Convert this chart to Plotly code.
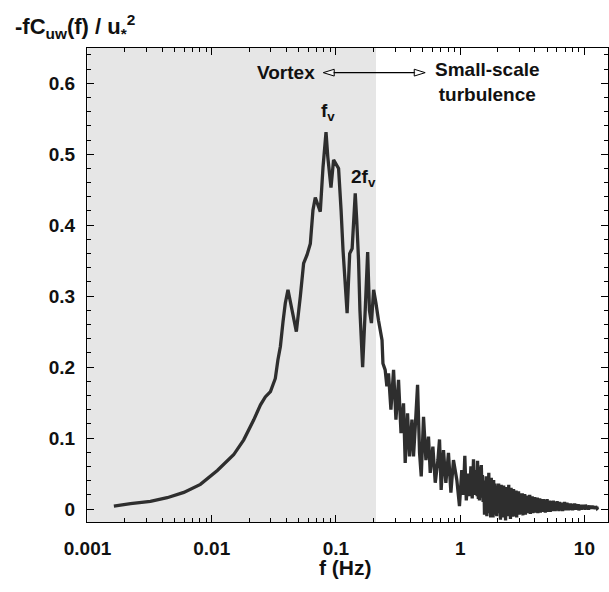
import plotly.graph_objects as go

# ---- data ----
# low-frequency (smooth + vortex peaks) part
f_low = [0.00163, 0.00222, 0.00321, 0.00438, 0.00596, 0.00811, 0.0111, 0.0150, 0.0181, 0.0218,
         0.0247, 0.0270, 0.0297, 0.0325, 0.0341, 0.0357, 0.0375, 0.0391, 0.0411, 0.0443,
         0.0480, 0.0517, 0.0549, 0.0585, 0.0622, 0.0653, 0.0682, 0.0748, 0.0787, 0.0832,
         0.0860, 0.0912, 0.0957, 0.105, 0.110, 0.114, 0.123, 0.129, 0.135, 0.143,
         0.147, 0.152, 0.156, 0.164, 0.172, 0.180, 0.186, 0.193, 0.201, 0.210,
         0.220, 0.235, 0.239, 0.249, 0.257, 0.265, 0.277, 0.291, 0.304, 0.319,
         0.334, 0.350, 0.361, 0.377, 0.391, 0.409, 0.421, 0.435, 0.454, 0.471,
         0.486, 0.507, 0.530, 0.556, 0.574, 0.603, 0.630, 0.662, 0.682, 0.703,
         0.734, 0.767, 0.805, 0.842, 0.883, 0.940, 0.987, 1.03, 1.06, 1.09,
         1.12, 1.16, 1.19, 1.22, 1.25, 1.28, 1.31]
c_low = [0.0042, 0.0075, 0.0107, 0.0159, 0.0234, 0.0347, 0.0544, 0.0764, 0.0975, 0.1257,
         0.1468, 0.158, 0.1655, 0.184, 0.210, 0.229, 0.264, 0.290, 0.309, 0.2805,
         0.250, 0.300, 0.346, 0.358, 0.374, 0.421, 0.439, 0.419, 0.482, 0.531,
         0.496, 0.453, 0.492, 0.480, 0.421, 0.365, 0.276, 0.360, 0.367, 0.445,
         0.407, 0.351, 0.280, 0.200, 0.280, 0.362, 0.280, 0.262, 0.309, 0.290,
         0.266, 0.238, 0.205, 0.196, 0.173, 0.191, 0.140, 0.196, 0.126, 0.182,
         0.107, 0.149, 0.065, 0.135, 0.074, 0.126, 0.074, 0.116, 0.175, 0.079,
         0.046, 0.130, 0.069, 0.102, 0.051, 0.088, 0.037, 0.069, 0.098, 0.027,
         0.083, 0.037, 0.079, 0.023, 0.069, 0.041, 0.004, 0.055, 0.020, 0.075,
         0.012, 0.050, 0.018, 0.060, 0.015, 0.070, 0.020]

# high-frequency (small-scale turbulence) part
f_high = [1.35, 1.37, 1.38, 1.40, 1.41, 1.43, 1.45, 1.46, 1.48, 1.50,
          1.51, 1.53, 1.55, 1.57, 1.58, 1.60, 1.62, 1.64, 1.66, 1.68,
          1.70, 1.72, 1.74, 1.76, 1.78, 1.80, 1.82, 1.84, 1.86, 1.88,
          1.91, 1.93, 1.95, 1.97, 2.00, 2.02, 2.04, 2.07, 2.09, 2.11,
          2.14, 2.16, 2.19, 2.21, 2.24, 2.27, 2.29, 2.32, 2.34, 2.37,
          2.40, 2.43, 2.46, 2.48, 2.51, 2.54, 2.57, 2.60, 2.63, 2.66,
          2.69, 2.72, 2.75, 2.79, 2.82, 2.85, 2.88, 2.92, 2.95, 2.99,
          3.02, 3.06, 3.09, 3.13, 3.16, 3.20, 3.24, 3.27, 3.31, 3.35,
          3.39, 3.43, 3.47, 3.51, 3.55, 3.59, 3.63, 3.67, 3.72, 3.76,
          3.80, 3.85, 3.89, 3.94, 3.98, 4.03, 4.07, 4.12, 4.17, 4.22,
          4.27, 4.32, 4.37, 4.42, 4.47, 4.52, 4.57, 4.62, 4.68, 4.73,
          4.79, 4.84, 4.90, 4.96, 5.01, 5.07, 5.13, 5.19, 5.25, 5.31,
          5.37, 5.43, 5.50, 5.56, 5.62, 5.69, 5.75, 5.82, 5.89, 5.96,
          6.03, 6.10, 6.17, 6.24, 6.31, 6.38, 6.46, 6.53, 6.61, 6.68,
          6.76, 6.84, 6.92, 7.00, 7.08, 7.16, 7.24, 7.33, 7.41, 7.50,
          7.59, 7.67, 7.76, 7.85, 7.94, 8.04, 8.13, 8.22, 8.32, 8.41,
          8.51, 8.61, 8.71, 8.81, 8.91, 9.02, 9.12, 9.23, 9.33, 9.44,
          9.55, 9.66, 9.77, 9.89, 10.0, 10.1, 10.2, 10.4, 10.5, 10.6,
          10.7, 10.8, 11.0, 11.1, 11.2, 11.4, 11.5, 11.6, 11.7, 11.9,
          12.0, 12.2, 12.3, 12.5, 12.6, 12.7, 12.9]
c_high = [0.055, 0.018, 0.068, 0.014, 0.060, 0.012, 0.050, 0.016, 0.062, 0.020, 0.048, 0.010,
          0.040, -0.008, 0.035, -0.005, 0.046, -0.010, 0.038, 0.000, 0.051, -0.006,
          0.032, -0.012, 0.044, -0.004, 0.030, -0.012, 0.041, 0.002, 0.036, -0.008,
          0.033, -0.010, 0.028, -0.004, 0.036, -0.006, 0.030, -0.015, 0.034, -0.002,
          0.026, -0.012, 0.033, -0.008, 0.029, -0.016, 0.031, -0.004, 0.025, -0.010,
          0.034, -0.005, 0.027, -0.014, 0.030, -0.007, 0.024, -0.011, 0.028,
          -0.010, 0.024, -0.003, 0.026, -0.012, 0.020, -0.004, 0.025, -0.008, 0.022,
          -0.002, 0.018, -0.007, 0.022, -0.009, 0.019, -0.004, 0.021, -0.008, 0.017,
          -0.002, 0.019, -0.006, 0.016, -0.003, 0.020, -0.007, 0.015, -0.004, 0.018,
          -0.006, 0.014, -0.002, 0.017, -0.005, 0.015, -0.003, 0.016, -0.006, 0.013,
          -0.002, 0.015, -0.005, 0.014, -0.003, 0.012, -0.004, 0.014, -0.002, 0.013,
          -0.005, 0.013, -0.002, 0.014, -0.004, 0.011, -0.001, 0.012, -0.004, 0.010,
          -0.002, 0.011, -0.003, 0.012, -0.001, 0.010, -0.003, 0.009, -0.002, 0.011,
          -0.001, 0.009, -0.003, 0.010, -0.002, 0.008, -0.001, 0.009, -0.003, 0.008,
          -0.002, 0.010, -0.001, 0.008, -0.002, 0.009, 0.000, 0.007, -0.002, 0.008,
          -0.001, 0.008, 0.000, 0.007, -0.002, 0.007, -0.001, 0.008, 0.000, 0.007,
          -0.001, 0.006, 0.000, 0.007, -0.002, 0.005, 0.001, 0.006, -0.001, 0.005,
          0.000, 0.006, 0.001, 0.005, -0.001, 0.006, 0.000, 0.005, 0.001, 0.004,
          -0.001, 0.005, 0.000, 0.004, 0.001, 0.005, 0.000, 0.004, 0.001, 0.004,
          0.000, 0.004, 0.001, 0.003, 0.001, 0.002]

x_tickvals = [0.001, 0.01, 0.1, 1, 10]
x_ticktext = ["0.001", "0.01", "0.1", "1", "10"]
y_tickvals = [0, 0.1, 0.2, 0.3, 0.4, 0.5, 0.6]
y_ticktext = ["0", "0.1", "0.2", "0.3", "0.4", "0.5", "0.6"]
x_minor = [m * d for d in [0.001, 0.01, 0.1, 1, 10] for m in range(2, 10) if m * d < 15.5]
y_minor = [0.02, 0.04, 0.06, 0.08, 0.12, 0.14, 0.16, 0.18, 0.22, 0.24, 0.26, 0.28,
           0.32, 0.34, 0.36, 0.38, 0.42, 0.44, 0.46, 0.48, 0.52, 0.54, 0.56, 0.58,
           0.62, 0.64]
vortex_limit = 0.21
X_RANGE = [-3.004, 1.19]
Y_RANGE = [-0.0183, 0.6497]

assert len(f_low) == len(c_low), (len(f_low), len(c_low))
assert len(f_high) == len(c_high), (len(f_high), len(c_high))

f_all = f_low + f_high
c_all = c_low + c_high

FONT = "Liberation Sans, Arial, sans-serif"
BLACK = "black"
CLEAR = "rgba(0,0,0,0)"

fig = go.Figure()
fig.add_trace(go.Scatter(
    x=f_all, y=c_all, mode="lines",
    line=dict(color="#2e2e2e", width=3.3, simplify=False),
    showlegend=False, hoverinfo="skip"))
# empty helper traces so the tick-only overlay axes are laid out
fig.add_trace(go.Scatter(x=[], y=[], xaxis="x2", yaxis="y2", showlegend=False, hoverinfo="skip"))
fig.add_trace(go.Scatter(x=[], y=[], xaxis="x3", yaxis="y3", showlegend=False, hoverinfo="skip"))

# shaded vortex region
fig.add_shape(type="rect", xref="x", yref="paper", x0=0.001, x1=vortex_limit, y0=0, y1=1,
              fillcolor="#e6e6e6", line=dict(width=0), layer="below")

tickfont = dict(family=FONT, size=19, color="#111")

def tick_axis(vals, length, width, overl, anch, log):
    d = dict(range=X_RANGE if log else Y_RANGE, overlaying=overl, anchor=anch,
             tickmode="array", tickvals=vals, ticks="inside", ticklen=length,
             tickwidth=width, tickcolor=BLACK, showticklabels=False, showline=False,
             mirror="ticks", showgrid=False, zeroline=False)
    if log:
        d["type"] = "log"
    return d

fig.update_layout(
    # main axes: frame + labels (transparent outside ticks push labels away from frame)
    xaxis=dict(type="log", range=X_RANGE, tickmode="array", tickvals=x_tickvals,
               ticktext=["<b>%s</b>" % t for t in x_ticktext],
               ticks="outside", ticklen=9, tickcolor=CLEAR,
               showline=True, linecolor=BLACK, linewidth=1.3, mirror=True,
               showgrid=False, zeroline=False, tickfont=tickfont),
    yaxis=dict(range=Y_RANGE, tickmode="array", tickvals=y_tickvals,
               ticktext=["<b>%s</b>" % t for t in y_ticktext],
               ticks="outside", ticklen=7, tickcolor=CLEAR,
               showline=True, linecolor=BLACK, linewidth=1.3, mirror=True,
               showgrid=False, zeroline=False, tickfont=tickfont),
    # tick-only overlay axes: major (longer) and minor (shorter) inward ticks
    xaxis2=tick_axis(x_tickvals, 7, 1.2, "x", "y", True),
    yaxis2=tick_axis(y_tickvals, 7, 1.2, "y", "x", False),
    xaxis3=tick_axis(x_minor, 4, 1, "x", "y", True),
    yaxis3=tick_axis(y_minor, 4, 1, "y", "x", False),
)

fig.add_annotation(xref="paper", yref="paper", x=-0.142, y=1.045, xanchor="left", yanchor="middle",
                   text="<b>-fC<sub>uw</sub>(f) / u<sub>*</sub><sup>2</sup></b>", showarrow=False,
                   font=dict(family=FONT, size=22, color="#111"))
fig.add_annotation(xref="paper", yref="paper", x=0.4957, y=-0.095, xanchor="center", yanchor="middle",
                   text="<b>f (Hz)</b>", showarrow=False,
                   font=dict(family=FONT, size=21, color="#111"))
ann_font = dict(family=FONT, size=19, color="#111")
fig.add_annotation(xref="paper", yref="paper", x=0.381, y=0.948, xanchor="center", yanchor="middle",
                   text="<b>Vortex</b>", showarrow=False, font=ann_font)
fig.add_annotation(xref="paper", yref="paper", x=0.768, y=0.929, xanchor="center", yanchor="middle",
                   text="<b>Small-scale</b><br><b>turbulence</b>", showarrow=False, align="center",
                   font=ann_font)
fig.add_annotation(xref="paper", yref="paper", x=0.463, y=0.865, xanchor="center", yanchor="middle",
                   text="<b>f<sub>v</sub></b>", showarrow=False, font=ann_font)
fig.add_annotation(xref="paper", yref="paper", x=0.530, y=0.726, xanchor="center", yanchor="middle",
                   text="<b>2f<sub>v</sub></b>", showarrow=False, font=ann_font)

# double arrow with open heads
ya = 0.948
hh = 0.0072
fig.add_shape(type="line", xref="paper", yref="paper", x0=0.472, x1=0.630, y0=ya, y1=ya,
              line=dict(color=BLACK, width=1.3))
fig.add_shape(type="path", xref="paper", yref="paper",
              path=f"M 0.4535 {ya} L 0.4745 {ya+hh} L 0.4745 {ya-hh} Z",
              line=dict(color=BLACK, width=1), fillcolor="rgba(255,255,255,0.6)")
fig.add_shape(type="path", xref="paper", yref="paper",
              path=f"M 0.6491 {ya} L 0.6281 {ya+hh} L 0.6281 {ya-hh} Z",
              line=dict(color=BLACK, width=1), fillcolor="rgba(255,255,255,0.6)")

fig.update_layout(width=609, height=592, autosize=False,
                  margin=dict(l=87, r=1, t=48, b=70),
                  plot_bgcolor="white", paper_bgcolor="white")

fig.write_html("out.html", config={"displayModeBar": False},
               post_script="document.body.style.margin='0';")
